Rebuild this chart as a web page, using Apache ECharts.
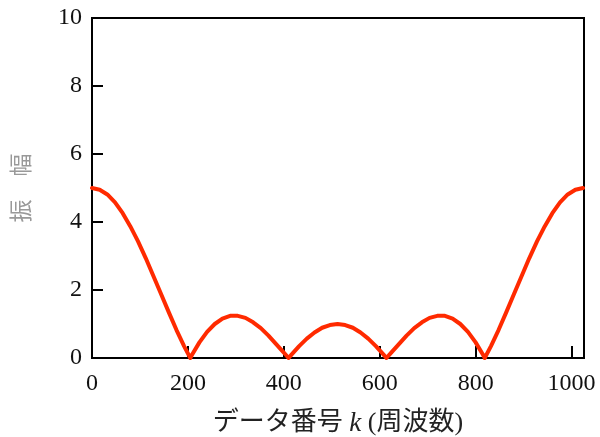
<!DOCTYPE html>
<html>
<head>
<meta charset="utf-8">
<script src="https://cdn.jsdelivr.net/npm/echarts@6/dist/echarts.min.js"></script>
<style>
  html, body { margin: 0; padding: 0; background: #fff; }
  #chart { width: 600px; height: 437px; }
</style>
</head>
<body>
<div id="chart"></div>
<script>
// Amplitude spectrum: data index k vs. amplitude
const kValues = [
  0, 16, 32, 48, 64, 80, 96, 112, 128, 144, 160, 176, 192, 205,
  208, 224, 240, 256, 272, 288, 304, 320, 336, 352, 368, 384, 400, 410,
  416, 432, 448, 464, 480, 496, 512, 528, 544, 560, 576, 592, 608, 614,
  624, 640, 656, 672, 688, 704, 720, 736, 752, 768, 784, 800, 816, 819,
  832, 848, 864, 880, 896, 912, 928, 944, 960, 976, 992, 1008, 1024
];
const amplitude = [
  5.00, 4.95, 4.81, 4.58, 4.26, 3.87, 3.43, 2.94, 2.41, 1.88, 1.35, 0.83, 0.35, 0.00,
  0.08, 0.46, 0.77, 1.00, 1.16, 1.24, 1.24, 1.18, 1.05, 0.88, 0.66, 0.41, 0.16, 0.00,
  0.10, 0.35, 0.57, 0.75, 0.89, 0.97, 1.00, 0.97, 0.89, 0.75, 0.57, 0.35, 0.10, 0.00,
  0.16, 0.41, 0.66, 0.88, 1.05, 1.18, 1.24, 1.24, 1.16, 1.00, 0.77, 0.46, 0.08, 0.00,
  0.35, 0.83, 1.35, 1.88, 2.41, 2.94, 3.43, 3.87, 4.26, 4.58, 4.81, 4.95, 5.00
];
const xTicks = [0, 200, 400, 600, 800, 1000];
const yTicks = [0, 2, 4, 6, 8, 10];

const points = kValues.map((k, i) => [k, amplitude[i]]);

const serif = '"Liberation Serif", "Times New Roman", "Noto Sans CJK JP", serif';

const chart = echarts.init(document.getElementById('chart'), null, { renderer: 'canvas' });
chart.setOption({
  animation: false,
  backgroundColor: '#fff',
  grid: {
    left: 92, top: 18, right: 16, bottom: 79,
    outerBoundsMode: 'none',
    containLabel: false,
    show: true, borderColor: '#000', borderWidth: 2, backgroundColor: 'transparent'
  },
  xAxis: {
    type: 'value',
    min: 0, max: 1026, interval: 200,
    axisLine: { show: true, lineStyle: { color: '#000', width: 2 } },
    axisTick: {
      show: true, inside: true, length: 12,
      lineStyle: { color: '#000', width: 2 },
      customValues: xTicks.slice(1)
    },
    axisLabel: {
      color: '#111', fontFamily: serif, fontSize: 24, margin: 14,
      customValues: xTicks,
      formatter: v => String(v)
    },
    splitLine: { show: false },
    name: '{a|データ番号 }{k|k}{a| (周波数)}',
    nameLocation: 'middle',
    nameGap: 52,
    nameTextStyle: {
      rich: {
        a: { fontFamily: serif, fontSize: 26, color: '#222' },
        k: { fontFamily: serif, fontSize: 27, fontStyle: 'italic', color: '#222' }
      }
    }
  },
  yAxis: {
    type: 'value',
    min: 0, max: 10, interval: 2,
    axisLine: { show: true, lineStyle: { color: '#000', width: 2 } },
    axisTick: {
      show: true, inside: true, length: 11,
      lineStyle: { color: '#000', width: 2 },
      customValues: yTicks.slice(1, -1)
    },
    axisLabel: {
      color: '#111', fontFamily: serif, fontSize: 24, margin: 10,
      customValues: yTicks,
      formatter: v => String(v)
    },
    splitLine: { show: false },
    name: '振　幅',
    nameLocation: 'middle',
    nameGap: 60,
    nameRotate: 90,
    nameTextStyle: { fontFamily: '"Noto Sans CJK JP", sans-serif', fontSize: 23, color: '#999' }
  },
  series: [{
    type: 'line',
    data: points,
    showSymbol: false,
    smooth: false,
    lineStyle: { color: '#ff2a00', width: 4, join: 'round', cap: 'round' },
    clip: true
  }]
});
</script>
</body>
</html>
